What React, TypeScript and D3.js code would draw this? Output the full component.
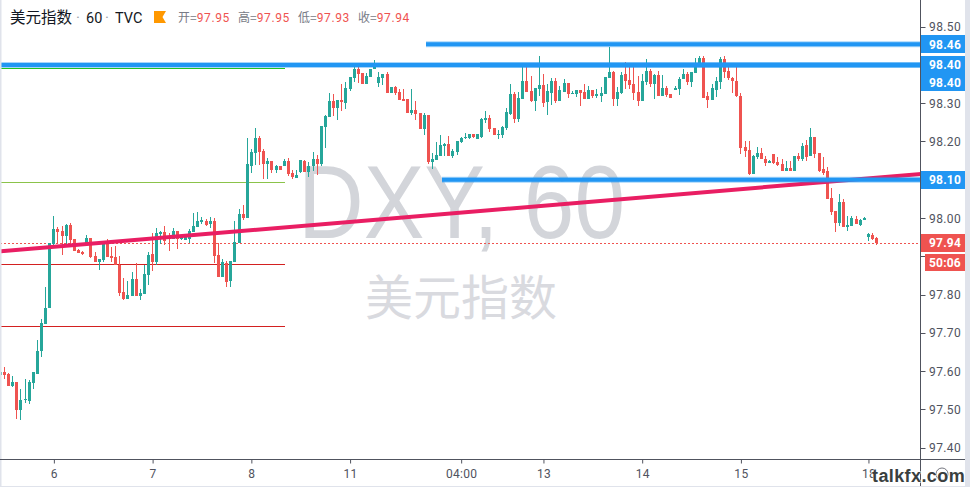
import React from "react";
import * as d3 from "d3";

const W = 970, H = 487;
const opens = [
97.590,97.598,97.592,97.562,97.572,97.499,97.525,97.522,97.569,97.593,
97.653,97.723,97.765,97.932,97.971,97.966,97.953,97.982,97.945,97.916,
97.911,97.932,97.948,97.901,97.885,97.890,97.937,97.901,97.898,97.877,
97.807,97.789,97.796,97.841,97.796,97.802,97.851,97.906,97.885,97.958,
97.963,97.950,97.945,97.966,97.945,97.943,97.945,97.963,97.977,97.990,
97.992,97.984,97.992,97.903,97.846,97.883,97.836,97.885,97.935,98.010,
98.000,98.136,98.170,98.209,98.175,98.141,98.149,98.125,98.136,98.136,
98.149,98.117,98.104,98.120,98.149,98.120,98.136,98.154,98.141,98.238,
98.264,98.305,98.287,98.308,98.300,98.337,98.365,98.389,98.378,98.350,
98.368,98.389,98.352,98.365,98.376,98.326,98.342,98.329,98.310,98.310,
98.274,98.282,98.274,98.232,98.269,98.146,98.151,98.162,98.188,98.193,
98.162,98.172,98.198,98.209,98.209,98.219,98.206,98.211,98.256,98.261,
98.235,98.217,98.217,98.235,98.271,98.324,98.258,98.311,98.358,98.331,
98.305,98.337,98.347,98.303,98.326,98.358,98.305,98.329,98.352,98.324,
98.324,98.334,98.329,98.311,98.334,98.318,98.318,98.324,98.365,98.381,
98.311,98.326,98.376,98.360,98.350,98.329,98.305,98.355,98.384,98.350,
98.373,98.318,98.339,98.324,98.334,98.337,98.363,98.376,98.355,98.378,
98.402,98.418,98.318,98.308,98.334,98.355,98.415,98.384,98.365,98.358,
98.318,98.185,98.177,98.115,98.159,98.170,98.154,98.144,98.167,98.146,
98.141,98.123,98.131,98.123,98.162,98.154,98.190,98.162,98.211,98.170,
98.128,98.123,98.052,98.018,97.987,98.042,97.977,97.979,97.997,97.982,
97.995,97.950,97.956,97.948];
const closes = [
97.598,97.591,97.562,97.572,97.499,97.525,97.528,97.572,97.598,97.653,
97.726,97.765,97.935,97.971,97.963,97.953,97.982,97.943,97.914,97.909,
97.906,97.948,97.898,97.885,97.893,97.937,97.898,97.896,97.877,97.804,
97.789,97.799,97.841,97.796,97.804,97.854,97.903,97.885,97.961,97.963,
97.940,97.945,97.966,97.945,97.953,97.953,97.966,97.979,97.992,97.995,
97.982,97.992,97.901,97.846,97.885,97.833,97.888,97.937,98.010,98.000,
98.141,98.172,98.209,98.172,98.141,98.149,98.125,98.136,98.125,98.149,
98.115,98.107,98.112,98.151,98.120,98.136,98.154,98.141,98.240,98.266,
98.305,98.287,98.308,98.303,98.339,98.368,98.389,98.376,98.350,98.370,
98.389,98.404,98.368,98.376,98.326,98.342,98.326,98.308,98.305,98.274,
98.282,98.271,98.232,98.269,98.146,98.154,98.164,98.190,98.193,98.162,
98.175,98.201,98.209,98.212,98.219,98.212,98.219,98.258,98.261,98.232,
98.217,98.220,98.238,98.276,98.324,98.258,98.313,98.358,98.329,98.305,
98.339,98.347,98.300,98.331,98.358,98.305,98.334,98.352,98.324,98.326,
98.334,98.326,98.311,98.334,98.318,98.324,98.326,98.368,98.381,98.311,
98.329,98.373,98.358,98.347,98.326,98.305,98.358,98.384,98.350,98.373,
98.318,98.339,98.321,98.313,98.339,98.363,98.376,98.355,98.381,98.404,
98.418,98.313,98.308,98.339,98.358,98.415,98.381,98.365,98.358,98.318,
98.183,98.175,98.115,98.162,98.170,98.154,98.144,98.149,98.144,98.138,
98.123,98.131,98.123,98.162,98.154,98.188,98.159,98.211,98.167,98.123,
98.117,98.050,98.016,97.987,98.042,97.977,97.982,98.000,97.984,97.995,
98.000,97.958,97.945,97.935];
const highs = [
97.598,97.611,97.595,97.588,97.572,97.554,97.580,97.577,97.598,97.682,
97.736,97.820,97.935,98.005,97.977,97.979,97.984,97.987,97.945,97.920,
97.914,97.956,97.948,97.910,97.893,97.941,97.945,97.924,97.927,97.901,
97.843,97.835,97.859,97.883,97.815,97.877,97.911,97.961,97.974,97.966,
97.979,97.961,97.974,97.966,97.953,97.956,97.971,98.013,98.016,98.003,
97.997,98.003,98.000,97.935,97.893,97.888,97.888,97.992,98.023,98.034,
98.209,98.180,98.235,98.215,98.180,98.157,98.149,98.139,98.136,98.154,
98.157,98.125,98.125,98.151,98.151,98.146,98.172,98.164,98.240,98.269,
98.326,98.324,98.308,98.350,98.355,98.368,98.399,98.399,98.378,98.378,
98.389,98.412,98.381,98.376,98.381,98.342,98.344,98.337,98.337,98.310,
98.337,98.305,98.274,98.274,98.269,98.170,98.198,98.217,98.196,98.214,
98.180,98.201,98.211,98.222,98.219,98.219,98.220,98.261,98.279,98.269,
98.235,98.230,98.240,98.287,98.350,98.329,98.329,98.394,98.399,98.371,
98.339,98.423,98.376,98.350,98.365,98.365,98.345,98.363,98.352,98.331,
98.334,98.334,98.350,98.345,98.334,98.337,98.342,98.368,98.446,98.384,
98.342,98.381,98.407,98.397,98.394,98.371,98.376,98.415,98.389,98.376,
98.384,98.373,98.344,98.324,98.345,98.368,98.389,98.381,98.381,98.418,
98.423,98.423,98.329,98.350,98.368,98.420,98.423,98.397,98.368,98.397,
98.326,98.201,98.201,98.164,98.185,98.182,98.162,98.151,98.167,98.160,
98.154,98.149,98.149,98.162,98.170,98.196,98.204,98.235,98.211,98.170,
98.159,98.133,98.078,98.018,98.063,98.050,98.005,98.005,98.005,97.997,
98.003,97.961,97.961,97.950];
const lows = [
97.590,97.580,97.562,97.559,97.475,97.473,97.517,97.515,97.554,97.593,
97.637,97.723,97.765,97.922,97.935,97.903,97.932,97.932,97.914,97.909,
97.904,97.932,97.896,97.885,97.864,97.886,97.898,97.885,97.877,97.796,
97.786,97.789,97.796,97.796,97.786,97.802,97.825,97.862,97.877,97.932,
97.930,97.914,97.945,97.919,97.943,97.943,97.935,97.963,97.977,97.985,
97.979,97.974,97.883,97.846,97.846,97.820,97.820,97.885,97.935,97.995,
98.000,98.117,98.138,98.138,98.102,98.102,98.117,98.117,98.125,98.136,
98.110,98.102,98.104,98.117,98.120,98.107,98.123,98.112,98.136,98.183,
98.264,98.266,98.256,98.279,98.284,98.331,98.355,98.352,98.350,98.350,
98.368,98.389,98.342,98.347,98.326,98.326,98.321,98.308,98.305,98.274,
98.270,98.256,98.232,98.217,98.141,98.128,98.151,98.162,98.162,98.162,
98.157,98.165,98.196,98.206,98.206,98.209,98.206,98.209,98.248,98.224,
98.217,98.206,98.209,98.230,98.268,98.248,98.250,98.311,98.329,98.303,
98.279,98.318,98.290,98.269,98.295,98.300,98.305,98.329,98.313,98.324,
98.316,98.292,98.311,98.311,98.313,98.313,98.303,98.324,98.365,98.292,
98.292,98.324,98.337,98.337,98.308,98.292,98.305,98.347,98.342,98.311,
98.318,98.318,98.316,98.313,98.334,98.321,98.363,98.347,98.342,98.378,
98.397,98.313,98.287,98.308,98.316,98.337,98.365,98.360,98.326,98.316,
98.167,98.159,98.112,98.115,98.154,98.154,98.136,98.144,98.141,98.136,
98.123,98.123,98.123,98.123,98.149,98.149,98.149,98.162,98.157,98.120,
98.112,98.050,98.008,97.963,97.979,97.977,97.966,97.979,97.984,97.979,
97.995,97.940,97.943,97.930];

const priceTicks = [98.5, 98.3, 98.2, 98.0, 97.8, 97.7, 97.6, 97.5, 97.4];
const tickMarks = [98.5, 98.4, 98.3, 98.2, 98.1, 98.0, 97.9, 97.8, 97.7, 97.6, 97.5, 97.4];
const timeLabels = ["6", "7", "8", "11", "04:00", "13", "14", "15", "18"];
const timeIndex = [13, 37, 61, 85, 112, 132, 156, 180, 211];
const fullLevels = [{ p: 98.4, from: 0 }, { p: 98.4, from: 480 }];
const blueLevels = [{ p: 98.454, from: 426 }, { p: 98.1, from: 442 }];
const shortLevels = [
  { p: 98.393, color: "#22c222", w: 1.2 },
  { p: 98.093, color: "#8bc34a", w: 1 },
  { p: 97.88, color: "#d32020", w: 1.2 },
  { p: 97.717, color: "#d32020", w: 1.2 },
];
const blueTags = [{ p: 98.454, t: "98.46" }, { p: 98.4, t: "98.40" }, { p: 98.355, t: "98.40" }, { p: 98.1, t: "98.10" }];
const trend = [{ i: 0, p: 97.913 }, { i: 224, p: 98.115 }];
const lastClose = 97.94;
const lastPriceLine = 97.934;

const RED = "#ef5350", GREEN = "#26a69a", BLUE = "#2196f3", PINK = "#e91e63", AXIS = "#50535e";
const UI = "'Noto Sans CJK SC', 'Open Sans', sans-serif";
const NUM = "Roboto, 'Liberation Sans', sans-serif";
const PLOT_R = 920.5, PLOT_B = 459.5, CHART_R = 965;

export default function App() {
  const y = d3.scaleLinear().domain([97.4, 98.0]).range([447.6, 218]);
  const x = d3.scaleLinear().domain([0, 100]).range([-0.11, 411.29]);
  const trendLine = d3.line<{ i: number; p: number }>().x(d => x(d.i)).y(d => y(d.p));
  const bodyTop = (i: number) => Math.round(y(Math.max(opens[i], closes[i])));
  return (
    <svg width={W} height={H} style={{ position: "absolute", left: 0, top: 0, background: "#fff" }}>
      <defs><clipPath id="plot"><rect x={1} y={0} width={PLOT_R - 1} height={PLOT_B} /></clipPath></defs>
      <text x={298} y={238} textLength={327} lengthAdjust="spacingAndGlyphs" fontFamily="'Liberation Sans', sans-serif" fontSize={104} fill="#d3d5da">DXY, 60</text>
      <text x={461} y={315} textAnchor="middle" fontFamily={UI} fontSize={48} fill="#d9dadf">美元指数</text>
      <g clipPath="url(#plot)">
        {shortLevels.map((l, i) => (
          <line key={i} x1={0} x2={285} y1={Math.round(y(l.p)) + 0.5} y2={Math.round(y(l.p)) + 0.5} stroke={l.color} strokeWidth={l.w} />
        ))}
        <line x1={0} x2={PLOT_R} y1={Math.round(y(lastPriceLine)) + 0.5} y2={Math.round(y(lastPriceLine)) + 0.5} stroke={RED} strokeDasharray="2 2" strokeWidth={1} />
        {opens.map((o, i) => {
          const c = closes[i];
          const color = c >= o ? GREEN : RED;
          const cx = Math.round(x(i));
          const top = bodyTop(i);
          const h = Math.max(1, Math.round(y(Math.min(o, c))) - top);
          return (
            <g key={i} fill={color} shapeRendering="crispEdges">
              <rect x={cx} y={y(highs[i])} width={1} height={y(lows[i]) - y(highs[i])} />
              <rect x={cx - 1} y={top} width={3} height={h} />
            </g>
          );
        })}
        <path d={trendLine(trend) ?? ""} stroke={PINK} strokeWidth={4} fill="none" />
        {fullLevels.map((l, i) => (
          <g key={i}>
            <line x1={l.from} x2={PLOT_R} y1={y(l.p)} y2={y(l.p)} stroke={BLUE} strokeOpacity={0.4} strokeWidth={6} />
            <line x1={l.from} x2={PLOT_R} y1={y(l.p)} y2={y(l.p)} stroke={BLUE} strokeWidth={4} />
          </g>
        ))}
        {blueLevels.map((l, i) => (
          <g key={i}>
            <line x1={l.from} x2={PLOT_R} y1={y(l.p)} y2={y(l.p)} stroke={BLUE} strokeOpacity={0.4} strokeWidth={6} />
            <line x1={l.from} x2={PLOT_R} y1={y(l.p)} y2={y(l.p)} stroke={BLUE} strokeWidth={4} />
          </g>
        ))}
      </g>

      <rect x={0} y={0} width={1.5} height={H} fill="#e0e3eb" />
      <rect x={CHART_R} y={0} width={W - CHART_R} height={H} fill="#e0e3eb" />
      <rect x={0} y={486} width={W} height={1} fill="#e0e3eb" />
      <line x1={PLOT_R} x2={PLOT_R} y1={0} y2={H - 1} stroke={AXIS} strokeWidth={1} />
      <line x1={0} x2={CHART_R} y1={PLOT_B} y2={PLOT_B} stroke={AXIS} strokeWidth={1} />

      {tickMarks.map(p => (
        <line key={p} x1={PLOT_R} x2={PLOT_R + 5} y1={Math.round(y(p)) + 0.5} y2={Math.round(y(p)) + 0.5} stroke={AXIS} />
      ))}
      {priceTicks.map(p => (
        <text key={p} x={929} y={y(p) + 4.5} fontFamily={NUM} fontSize={12} letterSpacing={0.4} fill="#50535e">{p.toFixed(2)}</text>
      ))}
      {timeLabels.map((t, i) => {
        const tx = x(timeIndex[i]) + 1;
        return (
          <g key={t}>
            <line x1={tx} x2={tx} y1={PLOT_B} y2={PLOT_B + 4} stroke={AXIS} />
            <text x={tx} y={478} textAnchor="middle" fontFamily={NUM} fontSize={12} letterSpacing={0.3} fill="#50535e">{t}</text>
          </g>
        );
      })}

      {blueTags.map((b, i) => (
        <g key={i}>
          <rect x={921} y={Math.round(y(b.p)) - 9} width={44} height={18} fill={BLUE} />
          <text x={929} y={y(b.p) + 4.5} fontFamily={NUM} fontSize={12} fontWeight={700} letterSpacing={0.2} fill="#fff">{b.t}</text>
        </g>
      ))}
      <rect x={921} y={53} width={44} height={1.5} fill="#fff" />
      <rect x={921} y={234} width={44} height={18} fill={RED} />
      <text x={929} y={247} fontFamily={NUM} fontSize={12} fontWeight={700} letterSpacing={0.2} fill="#fff">{lastClose.toFixed(2)}</text>
      <rect x={925} y={254} width={40} height={17} fill={RED} />
      <text x={929} y={266.5} fontFamily={NUM} fontSize={12} fontWeight={700} letterSpacing={0.2} fill="#fff">50:06</text>

      <text x={10} y={23} fontFamily={UI} fontSize={15.5} fill="#131722">美元指数</text>
      <text x={76} y={23} fontFamily={NUM} fontSize={15} fill="#9aa0a8">·</text>
      <text x={86} y={23} fontFamily={NUM} fontSize={14.5} fill="#131722">60</text>
      <text x={105} y={23} fontFamily={NUM} fontSize={15} fill="#9aa0a8">·</text>
      <text x={115} y={23} fontFamily={NUM} fontSize={14.5} fill="#131722">TVC</text>
      <path d="M154 11H166L162.5 17L166 23H154Z" fill="#ff9800" />
      {[{ k: "开", v: 97.95, x: 178 }, { k: "高", v: 97.95, x: 238 }, { k: "低", v: 97.93, x: 298 }, { k: "收", v: 97.94, x: 358 }].map(d => (
        <text key={d.k} x={d.x} y={22} fontFamily={UI} fontSize={12} fill="#787b86">
          {d.k}=<tspan fill={RED} fontFamily={NUM} letterSpacing={0.6}>{d.v.toFixed(2)}</tspan>
        </text>
      ))}

      <circle cx={942} cy={474} r={6} fill="none" stroke="#50535e" strokeWidth={0.8} />
      <text x={872} y={482} fontFamily="'Liberation Sans', sans-serif" fontSize={18} fontWeight={700} letterSpacing={0.4}
        fill="#3a3f3f" stroke="#fff" strokeWidth={1} paintOrder="stroke">talkfx.com</text>
    </svg>
  );
}
